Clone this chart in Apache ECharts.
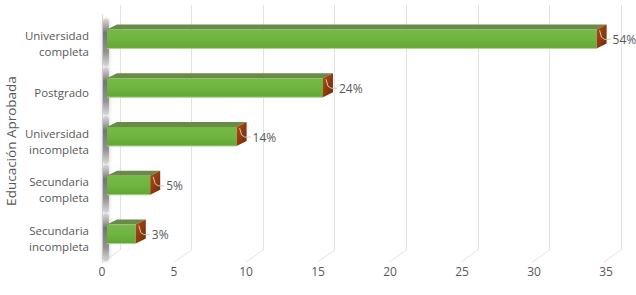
<!DOCTYPE html>
<html>
<head>
<meta charset="utf-8">
<script src="https://cdn.jsdelivr.net/npm/echarts@6/dist/echarts.min.js"></script>
<style>
html,body{margin:0;padding:0;background:#fff;}
#chart{width:636px;height:295px;}
</style>
</head>
<body>
<div id="chart"></div>
<script>
const categories = ['Secundaria\nincompleta', 'Secundaria\ncompleta', 'Universidad\nincompleta', 'Postgrado', 'Universidad\ncompleta'];
const values = [2, 3, 9, 15, 34];
const pctLabels = ['3%', '5%', '14%', '24%', '54%'];
const xTicks = [0, 5, 10, 15, 20, 25, 30, 35];
const axisTitle = 'Educación Aprobada';

const FONT = '"Open Sans", Lato, sans-serif';
const TXT = '#595959';

const chart = echarts.init(document.getElementById('chart'), null, {renderer: 'svg'});

function barItem(params, api) {
  const idx = api.value(0);
  const val = api.value(1);
  const p0 = api.coord([0, idx]);
  const p1 = api.coord([val, idx]);
  const x0 = p0[0], x1 = p1[0], yc = p0[1];
  const d = 10, dy = 5;
  const top = yc - 14, bot = yc + 5;
  const children = [];
  // wall shadow behind bar
  children.push({
    type: 'rect',
    shape: {x: x0 - 4, y: yc - 25, width: 6, height: 48, r: 3},
    style: {fill: new echarts.graphic.LinearGradient(0, 0, 0, 1, [
      {offset: 0, color: 'rgba(190,190,190,0.5)'},
      {offset: 0.3, color: 'rgba(90,90,90,0.8)'},
      {offset: 0.7, color: 'rgba(120,120,120,0.75)'},
      {offset: 1, color: 'rgba(190,190,190,0.5)'}
    ]), shadowBlur: 4, shadowColor: 'rgba(0,0,0,0.3)'}
  });
  // top face
  children.push({
    type: 'polygon',
    shape: {points: [[x0, top], [x1, top], [x1 + d, top - dy], [x0 + d, top - dy]]},
    style: {fill: '#6a8a48'}
  });
  // front face
  children.push({
    type: 'rect',
    shape: {x: x0, y: top, width: x1 - x0, height: bot - top},
    style: {fill: new echarts.graphic.LinearGradient(0, 0, 0, 1, [
      {offset: 0, color: '#76b94a'},
      {offset: 0.5, color: '#6fb540'},
      {offset: 1, color: '#62a536'}
    ])}
  });
  // bottom highlight
  children.push({
    type: 'line',
    shape: {x1: x0, y1: bot, x2: x1, y2: bot},
    style: {stroke: '#a9d48a', lineWidth: 1}
  });
  // end cap
  children.push({
    type: 'polygon',
    shape: {points: [[x1, top], [x1 + d, top - dy], [x1 + d, bot - dy], [x1, bot]]},
    style: {fill: new echarts.graphic.LinearGradient(0, 0, 1, 1, [
      {offset: 0, color: '#b24c12'},
      {offset: 1, color: '#6f2a06'}
    ])}
  });
  // leader line
  children.push({
    type: 'polyline',
    shape: {points: [[x1 + 3, yc - 13], [x1 + 5, yc - 6], [x1 + 8, yc - 4], [x1 + d + 4, yc - 4]]},
    style: {stroke: '#c8c8c8', lineWidth: 1, fill: null}
  });
  // value label
  children.push({
    type: 'text',
    style: {
      text: pctLabels[idx], x: x1 + d + 6, y: yc - 4,
      fill: TXT, font: '12px ' + FONT, verticalAlign: 'middle', align: 'left'
    }
  });
  return {type: 'group', children: children};
}

function floorItem(params, api) {
  const v = api.value(0);
  const cs = params.coordSys;
  const px = api.coord([v, 0])[0];
  const b = cs.y + cs.height;
  return {
    type: 'line',
    shape: {x1: px, y1: b, x2: px - 17, y2: b + 12},
    style: {stroke: '#e4e4e4', lineWidth: 1}
  };
}

const option = {
  animation: false,
  backgroundColor: '#ffffff',
  grid: [
    {left: 120, right: 15, top: 5, bottom: 45, containLabel: false, outerBoundsMode: 'none'},
    {left: 107, right: 25, top: 19, bottom: 32, containLabel: false, outerBoundsMode: 'none'},
    {left: 102, right: 30, top: 15, bottom: 33, containLabel: false, outerBoundsMode: 'none'}
  ],
  xAxis: [
    {gridIndex: 0, type: 'value', min: 0, max: 35, interval: 5,
     axisLabel: {show: false}, axisLine: {show: false}, axisTick: {show: false},
     splitLine: {show: true, lineStyle: {color: '#e2e2e2', width: 1}}},
    {gridIndex: 1, type: 'value', min: 0, max: 35, interval: 5,
     axisLabel: {show: false}, axisLine: {show: false}, axisTick: {show: false}, splitLine: {show: false}},
    {gridIndex: 2, type: 'value', min: 0, max: 35, interval: 5,
     axisLabel: {show: true, color: TXT, fontSize: 12, fontFamily: FONT, margin: 3},
     axisLine: {show: false}, axisTick: {show: false}, splitLine: {show: false}}
  ],
  yAxis: [
    {gridIndex: 0, type: 'category', data: categories, show: false},
    {gridIndex: 1, type: 'category', data: categories,
     axisLine: {show: false}, axisTick: {show: false},
     axisLabel: {color: TXT, fontSize: 11.5, fontFamily: FONT, margin: 18, lineHeight: 16, align: 'right'},
     name: axisTitle, nameLocation: 'middle', nameRotate: 90, nameGap: 89, nameMoveOverlap: false,
     nameTextStyle: {color: TXT, fontSize: 13.5, fontFamily: FONT}},
    {gridIndex: 2, type: 'category', data: categories,
     axisLine: {show: true, lineStyle: {color: '#d9d9d9'}}, axisTick: {show: false}, axisLabel: {show: false}}
  ],
  series: [
    {type: 'custom', xAxisIndex: 0, yAxisIndex: 0, renderItem: floorItem,
     data: xTicks.map(t => [t]), encode: {x: 0}, silent: true, z: 1},
    {type: 'custom', xAxisIndex: 1, yAxisIndex: 1, renderItem: barItem,
     data: values.map((v, i) => [i, v]), encode: {y: 0, x: 1}, z: 5, clip: false}
  ]
};
chart.setOption(option);
</script>
</body>
</html>
